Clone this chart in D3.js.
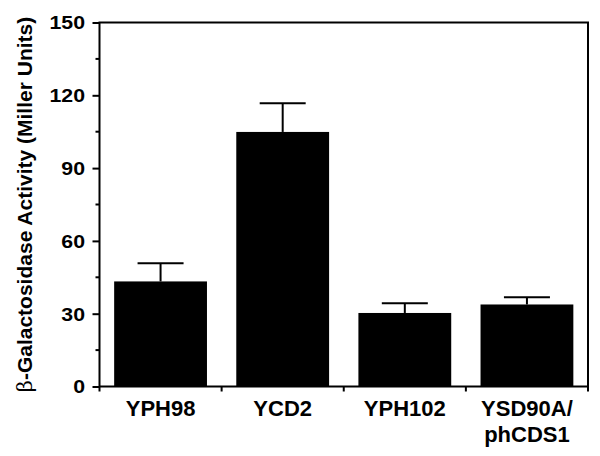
<!DOCTYPE html>
<html>
<head>
<meta charset="utf-8">
<script src="https://cdn.jsdelivr.net/npm/d3@7"></script>
<style>
  body { margin: 0; background: #fff; }
  text { font-family: "Liberation Sans", Arial, sans-serif; font-weight: bold; fill: #000; }
</style>
</head>
<body>
<svg id="chart" width="600" height="456"></svg>
<script>
// data
const strains = ["YPH98", "YCD2", "YPH102", "YSD90A/\nphCDS1"];
const activity = [43.3, 104.9, 30.3, 33.8];
const errorUp = [7.5, 11.8, 4.0, 3.0];
const yTicks = [0, 30, 60, 90, 120, 150];
const yMinorTicks = [15, 45, 75, 105, 135];

const margin = { top: 22.5, right: 12, bottom: 69.5, left: 99.5 };
const svg = d3.select("#chart");
const innerWidth = +svg.attr("width") - margin.left - margin.right;
const innerHeight = +svg.attr("height") - margin.top - margin.bottom;

const g = svg.append("g").attr("transform", `translate(${margin.left},${margin.top})`);

const xScale = d3.scaleBand().domain(strains).range([0, innerWidth])
  .paddingInner(0.24).paddingOuter(0.12);
const yScale = d3.scaleLinear().domain([0, 150]).range([innerHeight, 0]);

// bars
g.selectAll("rect.bar")
  .data(strains)
  .enter()
  .append("rect")
  .attr("class", "bar")
  .attr("x", (d) => xScale(d))
  .attr("width", xScale.bandwidth())
  .attr("y", (d, i) => yScale(activity[i]))
  .attr("height", (d, i) => innerHeight - yScale(activity[i]))
  .attr("fill", "#000");

// error bars (upper only)
const capW = 46;
const err = g.selectAll("g.err").data(strains).enter().append("g").attr("class", "err");
err.append("line")
  .attr("x1", (d) => xScale(d) + xScale.bandwidth() / 2)
  .attr("x2", (d) => xScale(d) + xScale.bandwidth() / 2)
  .attr("y1", (d, i) => yScale(activity[i]))
  .attr("y2", (d, i) => yScale(activity[i] + errorUp[i]))
  .attr("stroke", "#000").attr("stroke-width", 2);
err.append("line")
  .attr("x1", (d) => xScale(d) + xScale.bandwidth() / 2 - capW / 2)
  .attr("x2", (d) => xScale(d) + xScale.bandwidth() / 2 + capW / 2)
  .attr("y1", (d, i) => yScale(activity[i] + errorUp[i]))
  .attr("y2", (d, i) => yScale(activity[i] + errorUp[i]))
  .attr("stroke", "#000").attr("stroke-width", 2);

// y axis: major ticks, then labels drawn a bit wider like the original
const yAxis = d3.axisLeft(yScale).tickValues(yTicks).tickSize(7).tickFormat("");
const yAxisG = g.append("g").call(yAxis);
yAxisG.selectAll(".tick line").attr("stroke-width", 2);
yAxisG.select(".domain").remove();

g.selectAll("g.ylab")
  .data(yTicks)
  .enter()
  .append("g")
  .attr("class", "ylab")
  .attr("transform", (d) => `translate(-14.5,${yScale(d)})`)
  .append("text")
  .attr("text-anchor", "end")
  .attr("dy", "0.36em")
  .attr("transform", "scale(1.12,1)")
  .style("font-size", "19px")
  .text((d) => d);

g.selectAll("line.minor")
  .data(yMinorTicks)
  .enter()
  .append("line")
  .attr("class", "minor")
  .attr("x1", -4).attr("x2", 0)
  .attr("y1", (d) => yScale(d)).attr("y2", (d) => yScale(d))
  .attr("stroke", "#000").attr("stroke-width", 2);

// x axis ticks at band boundaries
const bounds = strains.map((d) => xScale(d) - xScale.step() * xScale.paddingInner() / 2);
bounds.push(innerWidth);
g.selectAll("line.xtick")
  .data(bounds)
  .enter()
  .append("line")
  .attr("class", "xtick")
  .attr("x1", (d) => d).attr("x2", (d) => d)
  .attr("y1", innerHeight).attr("y2", innerHeight + 5)
  .attr("stroke", "#000").attr("stroke-width", 2);

// x labels
const xLab = g.selectAll("text.xlab")
  .data(strains)
  .enter()
  .append("text")
  .attr("class", "xlab")
  .attr("text-anchor", "middle")
  .attr("transform", (d) => `translate(${xScale(d) + xScale.bandwidth() / 2},${innerHeight + 29})`)
  .style("font-size", "22px");
xLab.selectAll("tspan")
  .data((d) => d.split("\n"))
  .enter()
  .append("tspan")
  .attr("x", 0)
  .attr("dy", (d, i) => (i === 0 ? 0 : 26))
  .text((d) => d);

// frame
g.append("rect")
  .attr("width", innerWidth)
  .attr("height", innerHeight)
  .attr("fill", "none")
  .attr("stroke", "#000")
  .attr("stroke-width", 2);

// y label
const yLab = svg.append("text")
  .attr("transform", `translate(31.5,${margin.top + innerHeight / 2}) rotate(-90)`)
  .attr("text-anchor", "middle")
  .style("font-size", "21px");
yLab.append("tspan").style("font-family", "'DejaVu Serif', serif").style("font-weight", "normal").text("β");
yLab.append("tspan").text("-Galactosidase Activity (Miller Units)");
</script>
</body>
</html>
